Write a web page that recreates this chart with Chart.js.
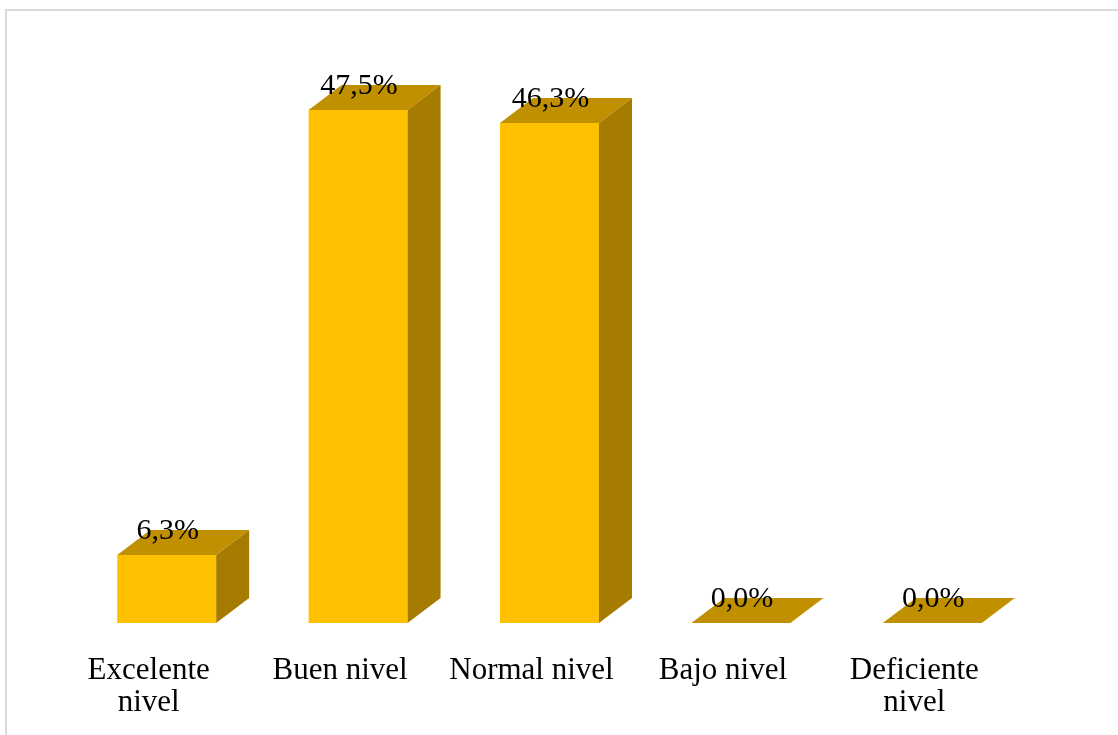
<!DOCTYPE html>
<html>
<head>
<meta charset="utf-8">
<script src="https://cdn.jsdelivr.net/npm/chart.js@4.4.1/dist/chart.umd.min.js"></script>
<style>
    html, body { margin: 0; padding: 0; background: #fff; overflow: hidden; }
    #marco {
        position: absolute; left: 5px; top: 9px; width: 1130px; height: 740px;
        border: 2px solid #d9d9d9; box-sizing: border-box;
    }
    #caja { position: absolute; left: 0; top: 0; width: 1118px; height: 735px; }
</style>
</head>
<body>
<div id="marco"></div>
<div id="caja"><canvas id="grafico"></canvas></div>
<script>
//#region datos
const categorias = [['Excelente', 'nivel'], 'Buen nivel', 'Normal nivel', 'Bajo nivel', ['Deficiente', 'nivel']]
const porcentajes = [6.3, 47.5, 46.3, 0.0, 0.0]
const ejeMax = 50
//#endregion

const colorFrente = '#FFC000'
const colorTapa = '#C09000'
const colorLado = '#A67C00'
const fondoX = 33   // profundidad de la caja hacia la derecha
const fondoY = 25   // profundidad de la caja hacia arriba

// dibuja la tapa y el lateral de cada barra, y el porcentaje encima
const caja3d = {
    id: 'caja3d',
    afterDatasetsDraw(chart) {
        const ctx = chart.ctx
        const meta = chart.getDatasetMeta(0)
        ctx.save()
        meta.data.forEach((bar, i) => {
            const izq = bar.x - bar.width / 2
            const der = bar.x + bar.width / 2
            const arriba = bar.y
            const base = bar.base

            ctx.fillStyle = colorTapa
            ctx.beginPath()
            ctx.moveTo(izq, arriba)
            ctx.lineTo(izq + fondoX, arriba - fondoY)
            ctx.lineTo(der + fondoX, arriba - fondoY)
            ctx.lineTo(der, arriba)
            ctx.closePath()
            ctx.fill()

            if (base - arriba > 0.5) {
                ctx.fillStyle = colorLado
                ctx.beginPath()
                ctx.moveTo(der, arriba)
                ctx.lineTo(der + fondoX, arriba - fondoY)
                ctx.lineTo(der + fondoX, base - fondoY)
                ctx.lineTo(der, base)
                ctx.closePath()
                ctx.fill()
            }

            const texto = porcentajes[i].toFixed(1).replace('.', ',') + '%'
            ctx.fillStyle = '#000'
            ctx.font = '30px "Liberation Serif", serif'
            ctx.textAlign = 'center'
            ctx.textBaseline = 'alphabetic'
            ctx.fillText(texto, bar.x + 1, arriba - 16)
        })
        ctx.restore()
    }
}

const CreaGrafico = () =>
{
    const ctx = document.getElementById('grafico')

    new Chart(ctx, {
        type: 'bar',
        data: {
            labels: categorias,
            datasets: [{
                data: porcentajes,
                backgroundColor: colorFrente,
                borderWidth: 0,
                barPercentage: 0.517,
                categoryPercentage: 1
            }]
        },
        options: {
            responsive: true,
            maintainAspectRatio: false,
            animation: false,
            layout: { padding: { left: 71, right: 90, top: 83, bottom: 0 } },
            plugins: {
                legend: { display: false },
                tooltip: { enabled: false }
            },
            scales: {
                x: {
                    grid: { display: false, drawTicks: false },
                    border: { display: false },
                    ticks: {
                        color: '#000',
                        font: { family: '"Liberation Serif", serif', size: 31, lineHeight: 1.02 },
                        padding: 32,
                        labelOffset: -18,
                        maxRotation: 0,
                        autoSkip: false
                    },
                    afterFit(scale) { scale.height = 112 }
                },
                y: {
                    display: false,
                    min: 0,
                    max: ejeMax
                }
            }
        },
        plugins: [caja3d]
    })
}

CreaGrafico()
</script>
</body>
</html>
